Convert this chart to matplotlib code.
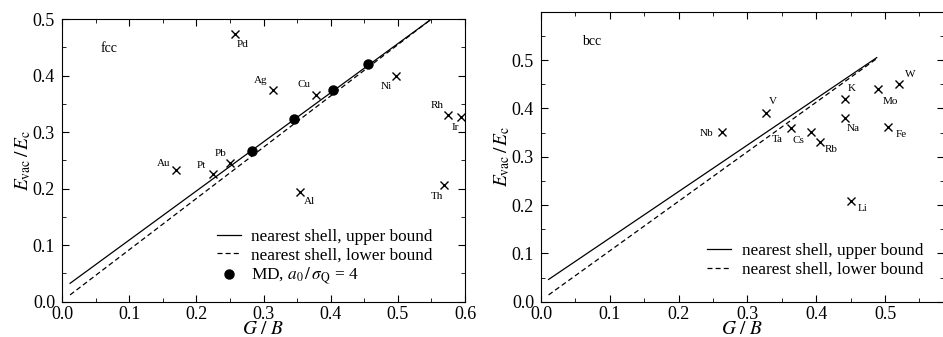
import matplotlib
matplotlib.use("Agg")
import matplotlib.pyplot as plt
from matplotlib.ticker import MultipleLocator

plt.rcParams['font.family'] = ['Liberation Serif', 'DejaVu Serif']
plt.rcParams['mathtext.fontset'] = 'stix'

# fcc data
fcc_names = ['Pd', 'Ag', 'Cu', 'Ni', 'Rh', 'Ir', 'Pb', 'Pt', 'Au', 'Th', 'Al']
fcc_gb = [0.257, 0.314, 0.378, 0.498, 0.575, 0.594, 0.250, 0.225, 0.170, 0.568, 0.354]
fcc_ev = [0.474, 0.375, 0.366, 0.400, 0.330, 0.327, 0.246, 0.226, 0.233, 0.206, 0.194]
fcc_off = [(8, -11), (-12, 9), (-12, 10), (-10, -11), (-11, 10), (-6, -11),
           (-9, 9), (-12, 8), (-13, 6), (-7, -11), (10, -9)]

md_gb = [0.283, 0.345, 0.403, 0.456]
md_ev = [0.267, 0.324, 0.374, 0.420]

fcc_upper_x = [0.012, 0.56]
fcc_upper_y = [0.0325, 0.5085]
fcc_lower_x = [0.012, 0.56]
fcc_lower_y = [0.012, 0.509]

# bcc data
bcc_names = ['Nb', 'V', 'Ta', 'Cs', 'Rb', 'K', 'Na', 'Mo', 'W', 'Fe', 'Li']
bcc_gb = [0.263, 0.327, 0.363, 0.392, 0.406, 0.442, 0.442, 0.490, 0.521, 0.505, 0.451]
bcc_ev = [0.352, 0.391, 0.359, 0.351, 0.331, 0.419, 0.380, 0.440, 0.451, 0.362, 0.209]
bcc_off = [(-15, -2), (7, 11), (-14, -11), (-12, -8), (11, -8), (7, 11),
           (8, -10), (12, -12), (11, 9), (13, -8), (11, -8)]

bcc_upper_x = [0.011, 0.488]
bcc_upper_y = [0.046, 0.505]
bcc_lower_x = [0.011, 0.488]
bcc_lower_y = [0.014, 0.503]

fig = plt.figure(figsize=(9.43, 3.37), dpi=100)
W, H = 943, 337
ax1 = fig.add_axes([62 / W, 1 - 301.7 / H, 403 / W, 282.7 / H])
ax2 = fig.add_axes([541 / W, 1 - 301.7 / H, 402.5 / W, 290 / H])


def style(ax, xmax, ymax, yticks):
    ax.set_xlim(0, xmax)
    ax.set_ylim(0, ymax)
    ax.xaxis.set_major_locator(MultipleLocator(0.1))
    ax.xaxis.set_minor_locator(MultipleLocator(0.05))
    ax.set_yticks(yticks)
    ax.yaxis.set_minor_locator(MultipleLocator(0.05))
    ax.tick_params(which='both', direction='in', top=True, right=True, labelsize=13)
    ax.tick_params(which='major', length=5, pad=3)
    ax.tick_params(axis='y', which='major', pad=5)  # keeps "0.0" clear of the x "0"
    ax.tick_params(which='minor', length=3)
    ax.set_xticklabels(['0'] + ['%.1f' % v for v in ax.get_xticks()[1:]])
    ax.set_xlabel(r'$G\ /\ B$', fontsize=14, labelpad=-1)
    ax.set_ylabel(r'$E_{\mathrm{vac}}\,/\,E_{\mathrm{c}}$', fontsize=14, labelpad=0)


def crosses(ax, names, gx, gy, offs):
    ax.plot(gx, gy, 'x', color='k', ms=6, mew=1.0, clip_on=False)
    for n, x, y, o in zip(names, gx, gy, offs):
        ax.annotate(n, (x, y), xytext=o, textcoords='offset pixels',
                    ha='center', va='center', fontsize=8)


# left panel
ax1.plot(fcc_upper_x, fcc_upper_y, '-', color='k', lw=0.9, label='nearest shell, upper bound')
ax1.plot(fcc_lower_x, fcc_lower_y, '--', color='k', lw=0.9, dashes=(4, 2.5), label='nearest shell, lower bound')
ax1.plot(md_gb, md_ev, 'o', color='k', ms=6.5, ls='none',
         label=r'MD, $a_0\,/\,\sigma_{\mathrm{Q}}$ = 4')
crosses(ax1, fcc_names, fcc_gb, fcc_ev, fcc_off)
ax1.text(0.057, 0.448, 'fcc', fontsize=10, va='center')
style(ax1, 0.6, 0.5, [0, 0.1, 0.2, 0.3, 0.4, 0.5])
ax1.legend(loc='lower right', bbox_to_anchor=(0.945, 0.014), frameon=False, fontsize=12.4,
           handlelength=1.4, handletextpad=0.6, labelspacing=0.15, borderaxespad=0.2)

# right panel
ax2.plot(bcc_upper_x, bcc_upper_y, '-', color='k', lw=0.9, label='nearest shell, upper bound')
ax2.plot(bcc_lower_x, bcc_lower_y, '--', color='k', lw=0.9, dashes=(4, 2.5), label='nearest shell, lower bound')
crosses(ax2, bcc_names, bcc_gb, bcc_ev, bcc_off)
ax2.text(0.059, 0.538, 'bcc', fontsize=10, va='center')
style(ax2, 0.585, 0.6, [0, 0.1, 0.2, 0.3, 0.4, 0.5])
ax2.legend(loc='lower right', bbox_to_anchor=(0.975, 0.046), frameon=False, fontsize=12.4,
           handlelength=1.4, handletextpad=0.6, labelspacing=0.15, borderaxespad=0.2)

fig.savefig('out.png', dpi=100)
